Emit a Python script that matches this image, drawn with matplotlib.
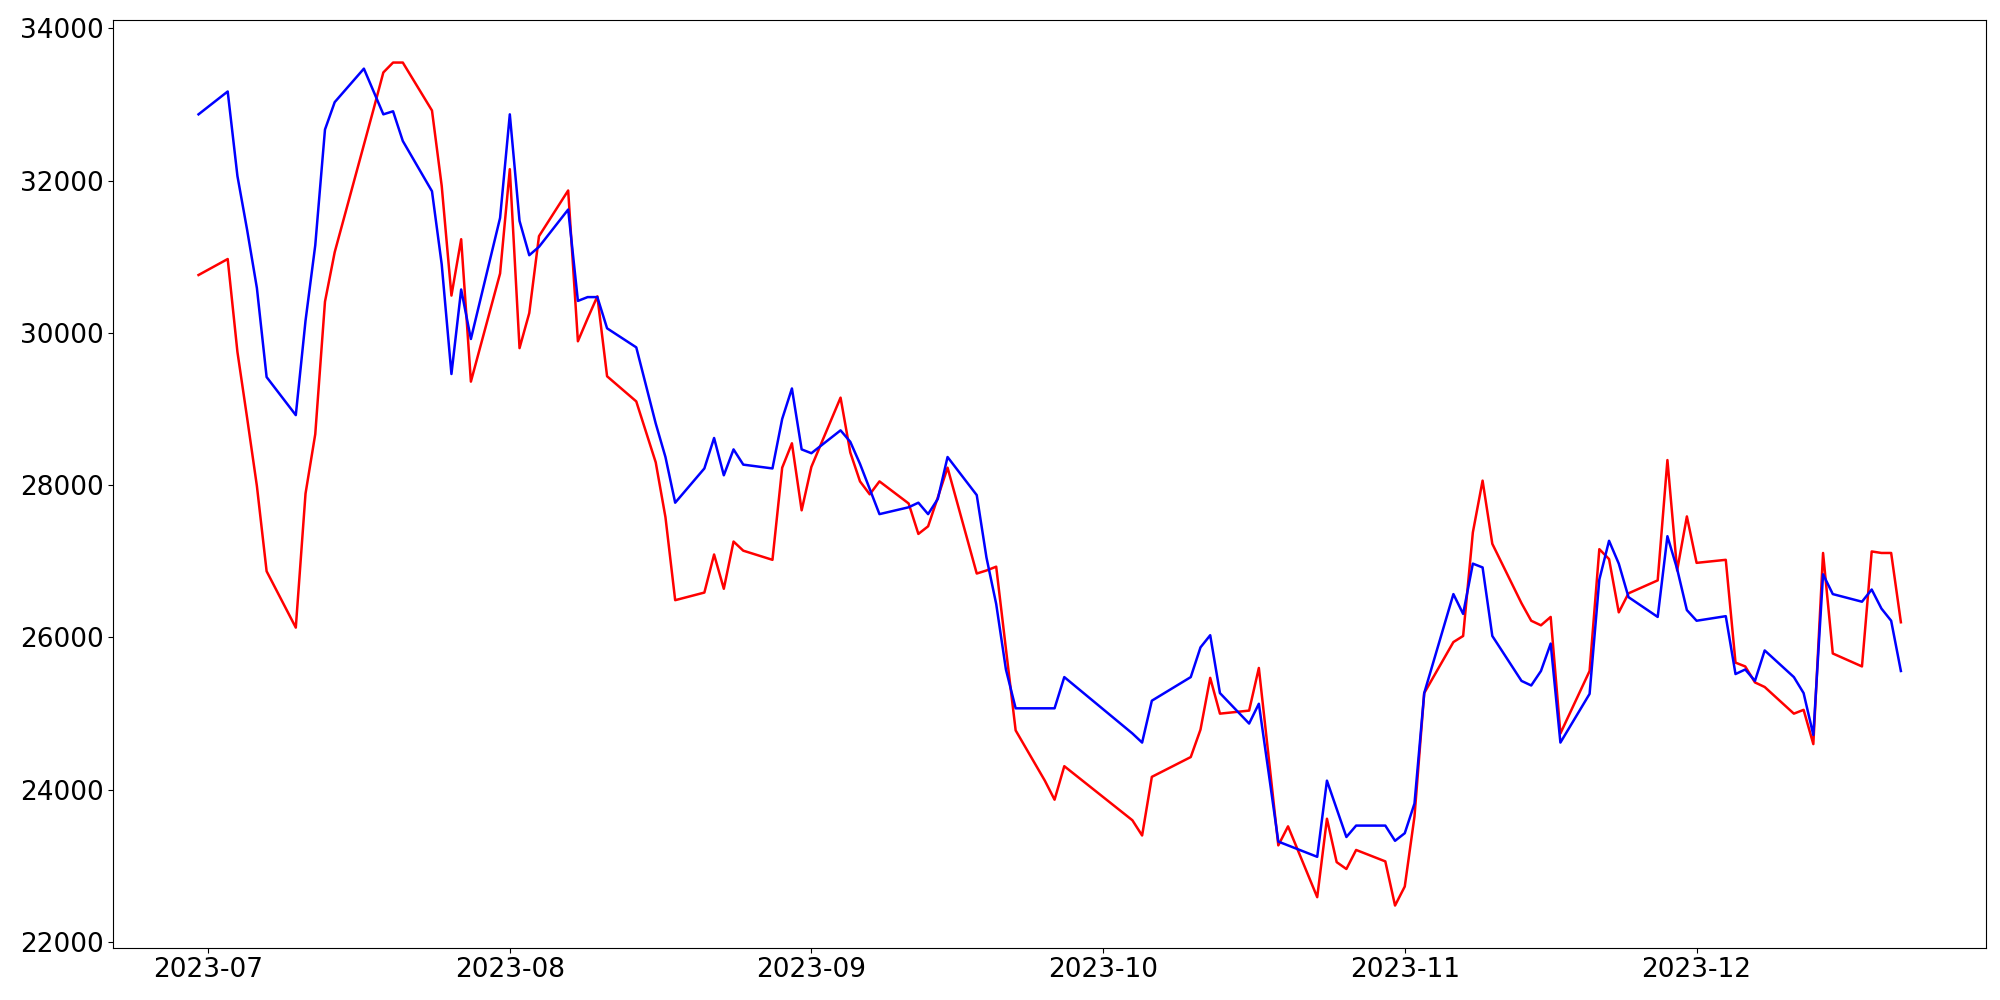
import pandas as pd
import matplotlib
matplotlib.use("Agg")
import matplotlib.pyplot as plt
import matplotlib.dates as mdates

# trading days (weekdays without the market holidays)
holidays = ["2023-08-15", "2023-09-28", "2023-09-29", "2023-10-02", "2023-10-03", "2023-10-09"]
dates = pd.bdate_range("2023-06-30", "2023-12-22")
dates = dates[~dates.isin(pd.to_datetime(holidays))]

red_vals = [
    30760, 30970, 29750, 28880, 27990, 26870, 26130, 27890, 28670, 30410, 31060,
    32470, 32940, 33420, 33550, 33550, 32920, 31930, 30490, 31230, 29360, 30780,
    32150, 29800, 30260, 31270, 31870, 29890, 30190, 30480, 29430, 29100, 28300,
    27580, 26490, 26590, 27090, 26640, 27260, 27140, 27020, 28230, 28550, 27670,
    28240, 29150, 28430, 28050, 27880, 28050, 27760, 27360, 27460, 27840, 28230,
    26840, 26880, 26930, 25850, 24780, 24120, 23870, 24310,
    23600, 23400, 24170, 24430, 24790, 25470, 25000, 25040, 25600, 24440, 23270,
    23520, 22590, 23620, 23050, 22960, 23210, 23060, 22480,
    22730, 23650, 25270, 25940, 26020, 27380, 28060, 27230, 26450, 26220, 26160,
    26270, 24740, 25560, 27160, 27030, 26330, 26580, 26750, 28330, 26880, 27590,
    26980, 27020, 25670, 25620, 25410, 25350, 25000, 25050, 24600, 27110, 25790,
    25620, 27130, 27110, 27110, 26200,
]

blue_vals = [
    32870, 33170, 32060, 31350, 30590, 29420, 28920, 30160, 31150, 32670, 33030,
    33470, 33170, 32870, 32910, 32520, 31860, 30900, 29460, 30570, 29920, 31510,
    32870, 31470, 31020, 31130, 31620, 30420, 30470, 30470, 30060, 29810, 28810,
    28370, 27770, 28220, 28620, 28130, 28470, 28270, 28220, 28870, 29270, 28470,
    28420, 28720, 28570, 28280, 27950, 27620, 27710, 27770, 27620, 27820, 28370,
    27870, 27050, 26440, 25580, 25070, 25070, 25070, 25480,
    24740, 24620, 25170, 25480, 25870, 26030, 25270, 24870, 25130, 24230, 23320,
    23270, 23120, 24120, 23750, 23380, 23530, 23530, 23330,
    23430, 23820, 25270, 26570, 26310, 26970, 26920, 26020, 25430, 25370, 25560,
    25920, 24620, 25260, 26760, 27270, 26970, 26530, 26270, 27330, 26900, 26360,
    26220, 26280, 25520, 25580, 25430, 25830, 25480, 25270, 24720, 26830, 26570,
    26470, 26630, 26380, 26220, 25560,
]

fig = plt.figure(figsize=(20, 10), dpi=100)
ax = fig.add_axes([0.0567, 0.0523, 0.9363, 0.9273])

ax.plot(dates, red_vals, color="red", linewidth=1.8)
ax.plot(dates, blue_vals, color="blue", linewidth=1.8)

ax.xaxis.set_major_locator(mdates.MonthLocator())
ax.xaxis.set_major_formatter(mdates.DateFormatter("%Y-%m"))
ax.tick_params(labelsize=19)

fig.savefig("out.png")
